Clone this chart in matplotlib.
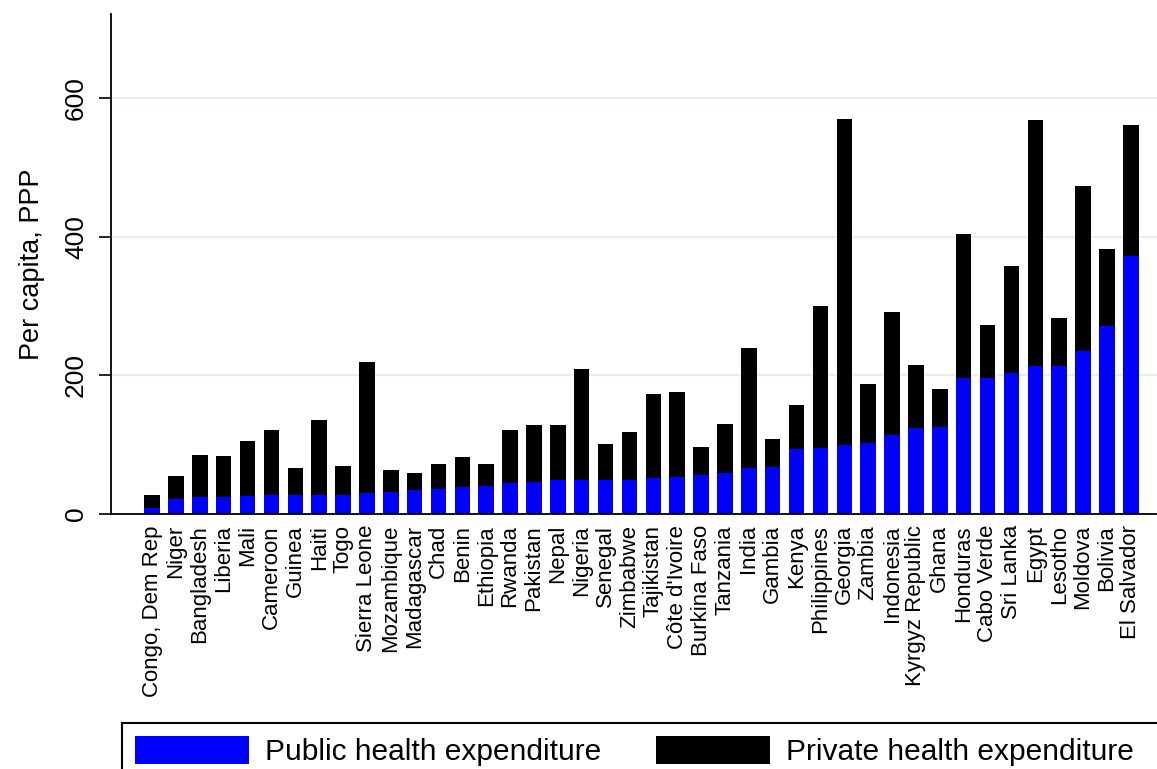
import numpy as np
import matplotlib
matplotlib.use("Agg")
from matplotlib import pyplot as plt
from matplotlib.patches import Rectangle

plt.rcParams['font.family'] = ['Liberation Sans', 'DejaVu Sans']

countries = ["Congo, Dem Rep", "Niger", "Bangladesh", "Liberia", "Mali", "Cameroon",
             "Guinea", "Haiti", "Togo", "Sierra Leone", "Mozambique", "Madagascar",
             "Chad", "Benin", "Ethiopia", "Rwanda", "Pakistan", "Nepal", "Nigeria",
             "Senegal", "Zimbabwe", "Tajikistan", "Côte d'Ivoire", "Burkina Faso",
             "Tanzania", "India", "Gambia", "Kenya", "Philippines", "Georgia", "Zambia",
             "Indonesia", "Kyrgyz Republic", "Ghana", "Honduras", "Cabo Verde",
             "Sri Lanka", "Egypt", "Lesotho", "Moldova", "Bolivia", "El Salvador"]

# per capita, PPP
public = [8, 21, 24, 25, 26, 28, 28, 28, 28, 30, 32, 35, 36, 39, 40, 45, 46, 49, 49,
          49, 49, 52, 53, 56, 59, 67, 68, 94, 96, 99, 102, 114, 124, 125, 196, 197,
          203, 213, 213, 235, 272, 373]
private = [19, 34, 61, 59, 79, 94, 39, 108, 42, 190, 31, 24, 36, 44, 32, 76, 82, 79, 160,
           52, 69, 121, 123, 41, 71, 173, 40, 64, 205, 472, 85, 178, 91, 55, 209, 76,
           155, 356, 70, 238, 111, 189]

fig = plt.figure(figsize=(11.57, 7.69), dpi=100)
ax = fig.add_axes([111/1157, 1 - 514/769, 1 - 111/1157, 500/769])

x = np.arange(len(countries))
ax.bar(x, public, width=0.65, color='#0000ff', linewidth=0,
       label='Public health expenditure', zorder=3)
ax.bar(x, private, width=0.65, bottom=public, color='black', linewidth=0,
       label='Private health expenditure', zorder=3)

ax.set_xlim(-1.72, 42.1)
ax.set_ylim(0, 722)
ax.set_yticks([0, 200, 400, 600])
ax.set_xticks(x)
ax.set_xticklabels(countries, rotation=90, fontsize=16)
ax.tick_params(axis='x', length=0, pad=8)
ax.tick_params(axis='y', length=8.5, width=1.2, labelsize=19, pad=8)
for lbl in ax.get_yticklabels():
    lbl.set_rotation(90)
    lbl.set_va('center')

for yv in [200, 400, 600]:
    ax.axhline(yv, color='#e6eef1', lw=1.6, zorder=1)

for side in ['top', 'right']:
    ax.spines[side].set_visible(False)
for side in ['left', 'bottom']:
    ax.spines[side].set_linewidth(1.3)
ax.spines['bottom'].set_zorder(4)

ax.set_ylabel('Per capita, PPP', fontsize=19.5)
ax.yaxis.set_label_coords(-0.063, 0.5)

# legend box runs off the bottom and right edges of the figure
leg_top = 1 - 723/769
fig.patches.append(Rectangle((122/1157, -0.1), 1.0, leg_top + 0.1,
                             transform=fig.transFigure, fill=False,
                             edgecolor='black', linewidth=1.5))
fig.legend(loc='upper left', bbox_to_anchor=(122/1157, leg_top),
           ncol=2, fontsize=21.5, frameon=False,
           handlelength=3.8, handleheight=1.05, handletextpad=0.55,
           columnspacing=1.83, borderpad=0.45, borderaxespad=0)

plt.savefig('out.png', dpi=100)
